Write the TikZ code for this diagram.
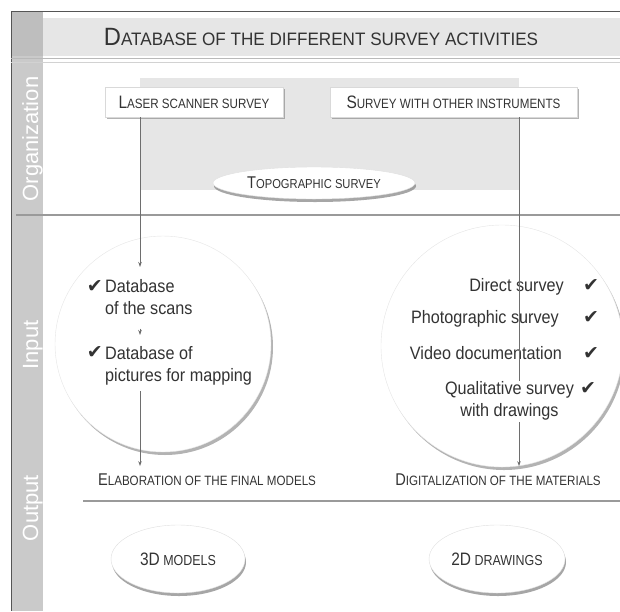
\documentclass[tikz,border=0pt]{standalone}
\usepackage{fontspec}
\setmainfont{Liberation Sans}
\newfontfamily\narrowsf[FakeStretch=0.86]{Liberation Sans}
\newfontfamily\titlesf[FakeStretch=0.95]{Liberation Sans}
\newfontfamily\bodysf[FakeStretch=0.9]{Liberation Sans}
\newfontfamily\checkfont{DejaVu Sans}
\usepackage{tikz}
\usetikzlibrary{arrows.meta,shapes.geometric,shadows,positioning}

\definecolor{textgray}{HTML}{333333}
\definecolor{lanegray}{HTML}{CACACA}
\definecolor{lanetop}{HTML}{BEBEBE}
\definecolor{bandgray}{HTML}{E6E6E6}
\definecolor{sepgray}{HTML}{9A9A9A}
\definecolor{linegray}{HTML}{6E6E6E}
\definecolor{bordergray}{HTML}{555555}

% big first letter, small capitals after it
\newcommand\capsc[4]{{\fontsize{#1}{#1}\selectfont #3}{\fontsize{#2}{#2}\selectfont #4}}

\tikzset{
  surveybox/.style={draw=gray!30, fill=white, minimum height=30pt, inner sep=0pt,
    drop shadow={shadow xshift=2pt, shadow yshift=-2pt, fill=gray, opacity=.6},
    text=textgray, font=\narrowsf},
  oval/.style={ellipse, draw=gray!25, fill=white, inner sep=0pt,
    drop shadow={shadow xshift=1pt, shadow yshift=-3pt, fill=gray, opacity=.7},
    text=textgray, font=\narrowsf},
  bubble/.style={circle, draw=gray!20, fill=white, inner sep=0pt,
    drop shadow={shadow xshift=2pt, shadow yshift=-3pt, fill=gray, opacity=.6}},
  link/.style={draw=linegray, line width=0.7pt},
  arr/.style={link, -{Stealth[length=5pt,width=3.5pt]}},
  sep/.style={draw=sepgray, line width=1.5pt},
  lane/.style={rotate=90, anchor=base, inner sep=0pt, text=white,
    font=\fontsize{22}{22}\selectfont},
  bodytext/.style={inner sep=0pt, text=textgray, font=\bodysf\fontsize{18}{22}\selectfont},
  tick/.style={inner sep=0pt, text=textgray, font=\checkfont\fontsize{19}{19}\selectfont},
  heading/.style={inner sep=0pt, text=textgray, font=\narrowsf, anchor=base}
}

\begin{document}
\begin{tikzpicture}[x=1pt,y=-1pt]
  \useasboundingbox (0,0) rectangle (620,611);
  \clip (0,0) rectangle (620,611);

  % frame, lanes and bands
  \fill[lanegray] (11,11) rectangle (43,611);
  \fill[lanetop] (11,11) rectangle (43,56);
  \fill[bandgray] (43,18) rectangle (620,56);
  \draw[bordergray, line width=1pt] (620,11) -- (11,11) -- (11,611);
  \draw[gray!55] (11,58.5) -- (620,58.5);
  \draw[gray!35] (11,62) -- (620,62);
  \draw[sep] (16,215) -- (620,215);
  \draw[sep] (83,501) -- (620,501);
  \fill[bandgray] (140,78) rectangle (519,190);

  \node[lane] (org) at (38,139) {Organization};
  \node[lane] (inp) at (38,345) {Input};
  \node[lane] (outp) at (38,508) {Output};

  \node[heading, font=\titlesf] (title) at (321,45) {\capsc{25}{18}{D}{ATABASE OF THE DIFFERENT SURVEY ACTIVITIES}};

  \node[surveybox, minimum width=178pt] (laser) at (194,102) {\capsc{18}{13.5}{L}{ASER SCANNER SURVEY}};
  \node[surveybox, minimum width=247pt] (other) at (453.5,102) {\capsc{18}{13.5}{S}{URVEY WITH OTHER INSTRUMENTS}};
  \node[oval, minimum width=202pt, minimum height=32pt] (topo) at (314,183) {\capsc{17}{13}{T}{OPOGRAPHIC SURVEY}};

  \node[bubble, minimum size=216pt] (scanbase) at (163,344) {};
  \node[bubble, minimum size=242pt] (instbase) at (502,346) {};

  % scanner side
  \node[bodytext, align=left, anchor=north west] (scans) at (105,279) {Database\\of the scans};
  \node[bodytext, align=left, anchor=north west] (pics) at (105,346) {Database of\\pictures for mapping};
  \node[tick, anchor=base east] (tickscans) at (103,292) {✔};
  \node[tick, anchor=base east] (tickpics) at (103,358) {✔};

  % other instruments side
  \node[bodytext, anchor=base east] (direct) at (564,291) {Direct survey};
  \node[bodytext, anchor=base east] (photo) at (559,323) {Photographic survey};
  \node[bodytext, anchor=base east] (video) at (562,359) {Video documentation};
  \node[bodytext, align=center, anchor=north] (qual) at (509.5,381) {Qualitative survey\\with drawings};
  \node[tick, anchor=base] (tickdirect) at (591,291) {✔};
  \node[tick, anchor=base] (tickphoto) at (591,323) {✔};
  \node[tick, anchor=base] (tickvideo) at (591,359) {✔};
  \node[tick, anchor=base] (tickqual) at (588,394) {✔};

  \node[heading] (elab) at (207,485) {\capsc{17}{13.5}{E}{LABORATION OF THE FINAL MODELS}};
  \node[heading] (digit) at (498,485) {\capsc{17}{13.5}{D}{IGITALIZATION OF THE MATERIALS}};

  \node[oval, minimum width=134pt, minimum height=68pt] (models) at (178,559) {\capsc{18}{14.5}{3D}{ MODELS}};
  \node[oval, minimum width=136pt, minimum height=68pt] (drawings) at (497,559) {\capsc{18}{14.5}{2D}{ DRAWINGS}};

  % connectors
  \coordinate (scanin) at (140,267);
  \coordinate (instx) at (519,0);
  \draw[arr] (laser.south -| scanin) -- (scanin);
  \draw[arr, shorten <=14pt, shorten >=11pt] (scans.south -| scanin) -- (pics.north -| scanin);
  \draw[arr, shorten <=6pt, shorten >=7pt] (pics.south -| scanin) -- (elab.north -| scanin);
  \draw[link] (other.south -| instx) -- (qual.north -| instx);
  \draw[arr, shorten <=2pt, shorten >=7pt] (qual.south -| instx) -- (digit.north -| instx);
\end{tikzpicture}
\end{document}
